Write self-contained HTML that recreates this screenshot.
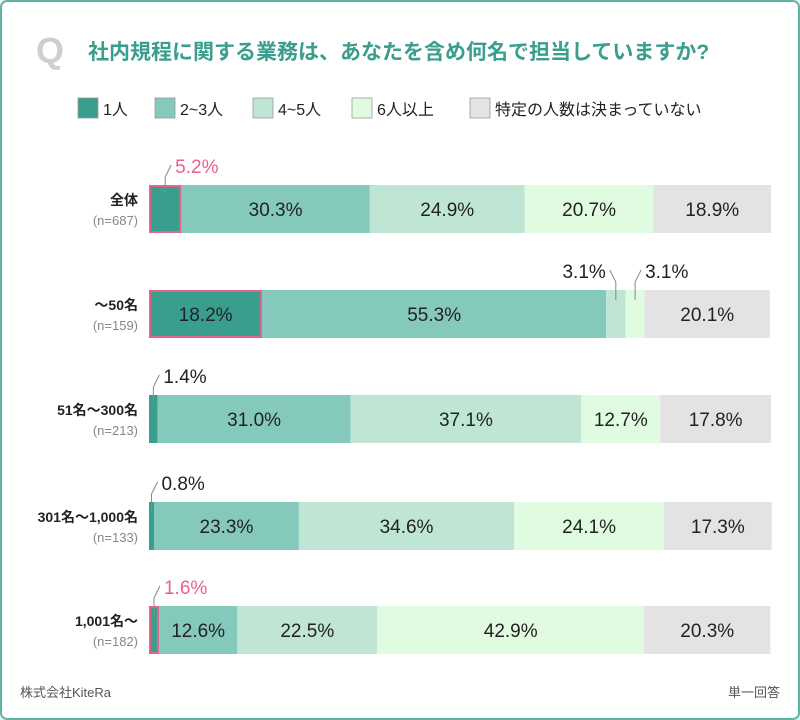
<!DOCTYPE html>
<html><head><meta charset="utf-8"><style>
body{margin:0;background:#fff;}
svg{display:block;font-family:"Liberation Sans","Noto Sans CJK JP",sans-serif;}
</style></head><body>
<svg id="c" width="800" height="720" viewBox="0 0 800 720">
<rect x="1" y="1" width="798" height="718" rx="6" fill="#fff" stroke="#5bb5a5" stroke-width="2"/>
<text x="36" y="63" font-size="36" fill="#cfcfcf" font-weight="bold">Q</text>
<text x="88" y="59" font-size="21" fill="#3a9e8e" font-weight="bold">社内規程に関する業務は、あなたを含め何名で担当していますか?</text>
<g id="legend"></g>
<g id="bars"></g>
<text x="20" y="697" font-size="13" fill="#555">株式会社KiteRa</text>
<text x="780" y="697" font-size="13" fill="#555" text-anchor="end">単一回答</text>
</svg>
<script>
const categories=["全体","〜50名","51名〜300名","301名〜1,000名","1,001名〜"];
const counts=["(n=687)","(n=159)","(n=213)","(n=133)","(n=182)"];
const seriesNames=["1人","2~3人","4~5人","6人以上","特定の人数は決まっていない"];
const s1=[5.2,18.2,1.4,0.8,1.6];
const s2=[30.3,55.3,31.0,23.3,12.6];
const s3=[24.9,3.1,37.1,34.6,22.5];
const s4=[20.7,3.1,12.7,24.1,42.9];
const s5=[18.9,20.1,17.8,17.3,20.3];
const highlight=[true,true,false,false,true];
const colors=["#3a9e8e","#85c9bd","#bfe6d5","#e0fbe0","#e3e3e3"];
const NS="http://www.w3.org/2000/svg";
const X0=149,W=622,rowY=[185,290,395,502,606],H=48;
const xs=v=>v/100*W;
function el(t,a,p){const e=document.createElementNS(NS,t);for(const k in a)e.setAttribute(k,a[k]);p.appendChild(e);return e;}
const lg=document.getElementById('legend');
const lx=[78,155,253,352,470];
seriesNames.forEach((n,i)=>{
  const r=el('rect',{x:lx[i],y:98,width:20,height:20,fill:colors[i],stroke:"#999","stroke-width":0.8},lg);
  
  
  const t=el('text',{x:lx[i]+25,y:115,"font-size":16,fill:"#222"},lg);t.textContent=n;
  
  
});
const g=document.getElementById('bars');
const series=[s1,s2,s3,s4,s5];
categories.forEach((c,r)=>{
  const y=rowY[r];
  const t1=el('text',{x:138,y:y+20,"font-size":14,fill:"#222","text-anchor":"end","font-weight":"bold"},g);t1.textContent=c;
  
  
  const t2=el('text',{x:138,y:y+40,"font-size":13,fill:"#888","text-anchor":"end"},g);t2.textContent=counts[r];
  
  
  let acc=0;let small=0;
  series.forEach((s,i)=>{
    const v=s[r];const x=X0+xs(acc),w=xs(v);
    const rc=el('rect',{x:x,y:y,width:w,height:H,fill:colors[i]},g);
    
    
    const pink=(i===0&&highlight[r]);
    if(pink){const hr=el('rect',{x:x+1,y:y+1,width:w-2,height:H-2,fill:"none",stroke:"#e8628c","stroke-width":2},g);
      
      }
    const label=v.toFixed(1)+"%";
    if(v>=8){
      const t=el('text',{x:x+w/2,y:y+31,"font-size":19,fill:"#222","text-anchor":"middle"},g);t.textContent=label;
      
      
    } else {
      const cx=x+w/2;let lx2,anchor;
      if(small===0&&i!==0&&r===1){lx2=cx-10;anchor="end";}else{lx2=cx+10;anchor="start";}
      small++;
      const ln=el('polyline',{points:`${cx},${y+10} ${cx},${y-8} ${anchor==="end"?cx-6:cx+6},${y-20}`,fill:"none",stroke:"#888","stroke-width":1},g);
      
      
      const t=el('text',{x:lx2,y:y-12,"font-size":19,fill:pink?"#e8628c":"#222","text-anchor":anchor},g);t.textContent=label;
      
      
    }
    acc+=v;
  });
});
</script>
</body></html>
